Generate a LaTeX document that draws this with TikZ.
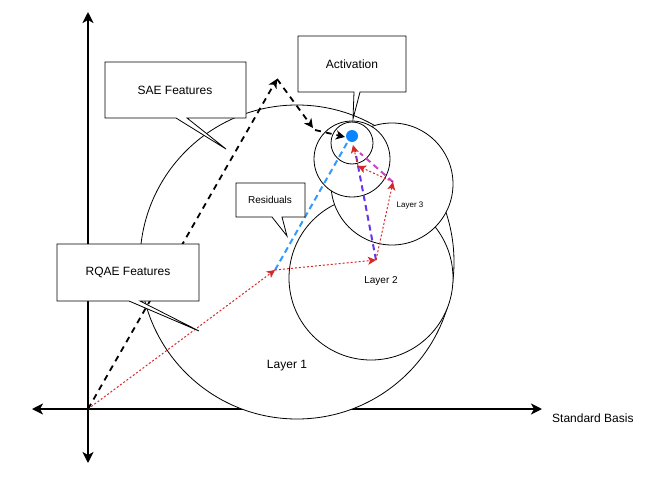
\documentclass[tikz,border=0pt]{standalone}
\usepackage{fontspec}
\setmainfont{Liberation Sans}
\usetikzlibrary{arrows.meta}
\definecolor{redarr}{HTML}{D62828}
\definecolor{bluearr}{HTML}{3399FF}
\definecolor{purplearr}{HTML}{6633EE}
\definecolor{magarr}{HTML}{CC44CC}
\definecolor{dotblue}{HTML}{0A84FF}
\tikzset{
  axisboth/.style={line width=2.6pt, {Stealth[length=11pt,width=11pt,inset=3pt]}-{Stealth[length=11pt,width=11pt,inset=3pt]}},
  layercircle/.style={draw=black, fill=white, line width=0.8pt},
  callout/.style={draw=black, fill=white, line width=0.8pt, line join=miter},
  lbl/.style={font=\fontsize{12}{14}\selectfont, inner sep=0pt},
  blackdash/.style={line width=1.8pt, dash pattern=on 6pt off 5pt, -{Stealth[length=9pt,width=9pt,inset=2.5pt]}},
  reddot/.style={draw=redarr, line width=1pt, dash pattern=on 2pt off 2pt, -{Stealth[length=8pt,width=8pt,inset=2pt,fill=redarr]}},
  colordash/.style={line width=2pt, dash pattern=on 6pt off 4pt},
}
\begin{document}
\begin{tikzpicture}[x=1pt,y=-1pt]
\useasboundingbox (0,0) rectangle (645,490);
% coordinates
\coordinate (O) at (88,409);
\coordinate (ytop) at (88,12);
\coordinate (ybot) at (88,463);
\coordinate (xleft) at (32,409);
\coordinate (xright) at (542,409);
% axes
\draw[axisboth] (xleft) -- (xright);
\draw[axisboth] (ybot) -- (ytop);
\node[lbl, anchor=west] (stdb) at (552,418) {Standard Basis};
% circles
\node[layercircle, circle, minimum size=314pt, inner sep=0pt] (L1) at (297,262) {};
\node[layercircle, circle, minimum size=164pt, inner sep=0pt] (L2) at (371,278) {};
\node[layercircle, circle, minimum size=122pt, inner sep=0pt] (L3) at (392,184) {};
\node[layercircle, circle, minimum size=76pt, inner sep=0pt] (C4) at (352,159) {};
\node[layercircle, circle, minimum size=42pt, inner sep=0pt] (C5) at (352,143) {};
\node[lbl] (l1) at (287,366) {Layer 1};
\node[lbl, font=\fontsize{10}{12}\selectfont] (l2) at (381,281) {Layer 2};
\node[lbl, font=\fontsize{8}{10}\selectfont] (l3) at (410,206) {Layer 3};
% points
\coordinate (A) at (277,79);
\coordinate (B) at (313,128);
\coordinate (Bs) at (315,130);
\coordinate (R1) at (275,270);
\coordinate (R2) at (376,260);
\coordinate (R3) at (393,182);
\coordinate (R4) at (358,166);
\coordinate (D) at (352,136);
\coordinate (Dl) at (345,137);
\coordinate (Dr) at (353,145);
\coordinate (Db) at (347,143);
\coordinate (Pe) at (355,150);
\coordinate (Me) at (360,153);
% coloured dashed lines
\draw[bluearr, colordash] (R1) -- (Db);
\draw[purplearr, colordash] (R2) -- (Pe);
\draw[magarr, colordash] (R3) -- (Me);
% red dotted arrows
\draw[reddot] (O) -- (R1);
\draw[reddot] (R1) -- (R2);
\draw[reddot] (R2) -- (R3);
\draw[reddot] (R3) -- (R4);
\draw[reddot] (R4) -- (Dr);
% blue dot
\node[circle, fill=dotblue, minimum size=12pt, inner sep=0pt] (dot) at (D) {};
% black dashed arrows
\draw[blackdash] (O) -- (A);
\draw[blackdash] (A) -- (B);
\draw[blackdash] (Bs) -- (Dl);
% callouts
\draw[callout] (298,36) -- (406,36) -- (406,92) -- (360,92) -- (353,119) -- (354,92) -- (298,92) -- cycle;
\node[lbl] (act) at (352,64) {Activation};
\draw[callout] (105,62) -- (246,62) -- (246,118) -- (187,118) -- (226,149) -- (176,118) -- (105,118) -- cycle;
\node[lbl] (sae) at (175,90) {SAE Features};
\draw[callout] (57,244) -- (199,244) -- (199,301) -- (140,301) -- (199,331) -- (129,301) -- (57,301) -- cycle;
\node[lbl] (rqae) at (128,272) {RQAE Features};
\draw[callout] (236,183) -- (305,183) -- (305,217) -- (282,217) -- (287,236) -- (272,217) -- (236,217) -- cycle;
\node[lbl, font=\fontsize{10}{12}\selectfont] (res) at (270,200) {Residuals};
\end{tikzpicture}
\end{document}
